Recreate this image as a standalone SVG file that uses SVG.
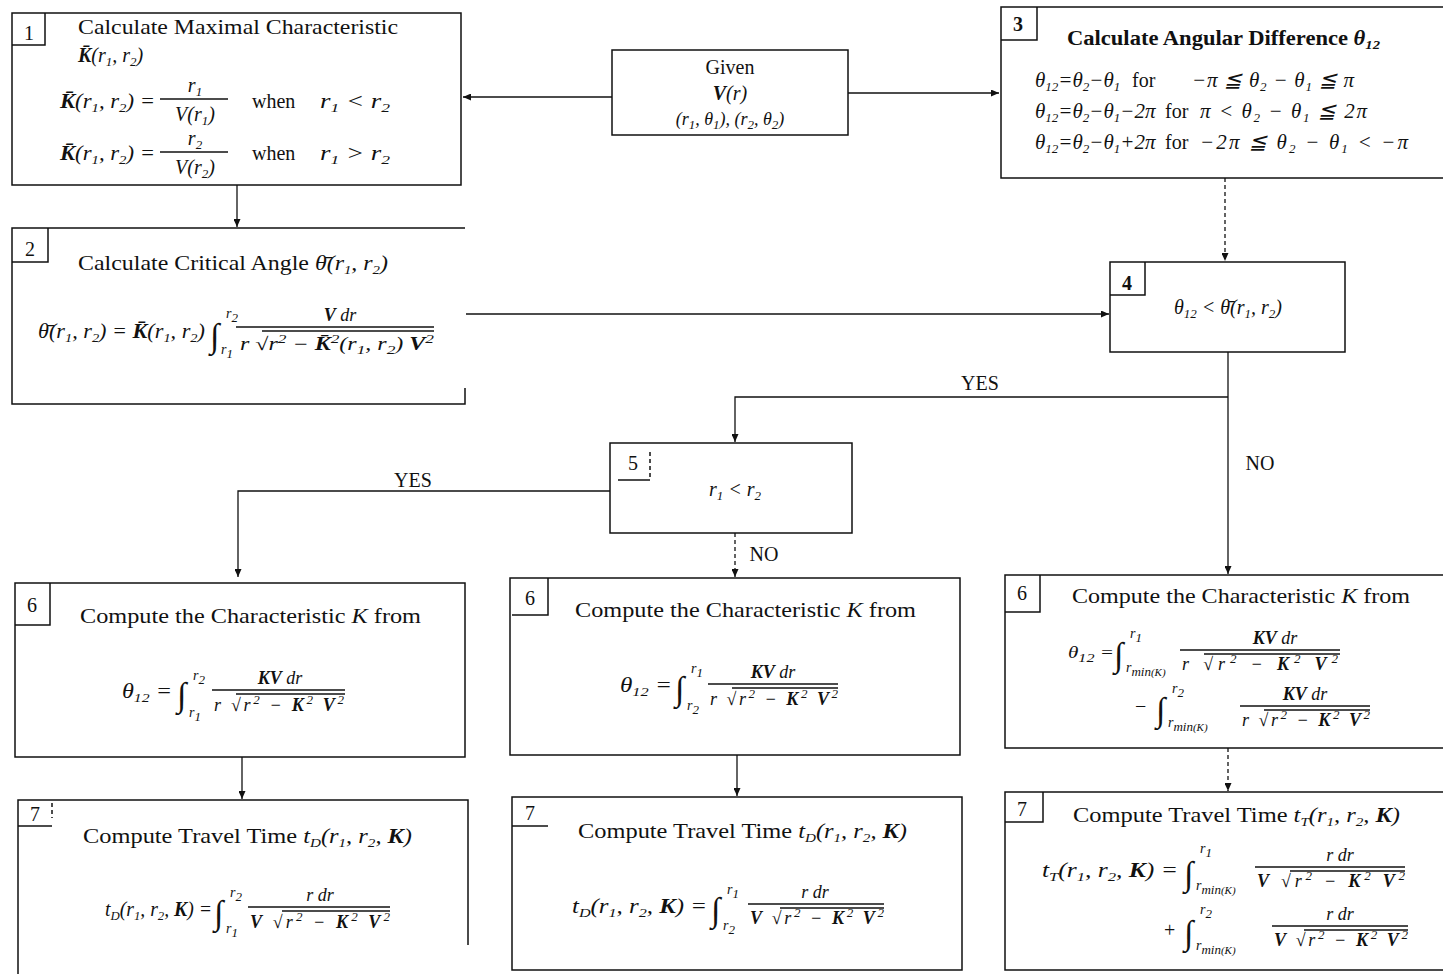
<svg xmlns="http://www.w3.org/2000/svg" width="1443" height="974" viewBox="0 0 1443 974">
<defs>
<marker id="ah" markerWidth="8" markerHeight="7" refX="8" refY="3.5" orient="auto" markerUnits="userSpaceOnUse"><path d="M0,0 L8,3.5 L0,7 z" fill="#111"/></marker>
<style>
text{font-family:"Liberation Serif","Times New Roman",serif;font-size:20px;fill:#111}
.ti{font-size:21px}
.m{font-style:italic}
.b{font-weight:bold}
.s{font-size:13px;baseline-shift:-4px}
.p{font-size:13px;baseline-shift:7px}
.lim{font-size:14px;font-style:italic}
.int{font-size:34px}
.f{font-size:18px;font-style:italic}
.eq3{font-size:21px;font-style:italic}
.box{fill:none;stroke:#111;stroke-width:1.5}
.bar{stroke:#111;stroke-width:1.3}
.conn{fill:none;stroke:#111;stroke-width:1.3}
.dash{stroke-dasharray:4 3}
.lbl{font-size:20px}
</style>
</defs>

<g id="node1">
<path class="box" d="M12,13 H461 V185 H12 Z"/>
<path class="box" d="M45,13 V45 H12"/>
<text x="29" y="40" text-anchor="middle">1</text>
<text class="ti" x="78" y="34" textLength="320" lengthAdjust="spacingAndGlyphs">Calculate Maximal Characteristic</text>
<text class="m" x="78" y="62"><tspan class="b">K̄</tspan>(r<tspan class="s">1</tspan>, r<tspan class="s">2</tspan>)</text>
<text class="m" x="60" y="108" textLength="95" lengthAdjust="spacingAndGlyphs"><tspan class="b">K̄</tspan>(r<tspan class="s">1</tspan>, r<tspan class="s">2</tspan>) =</text>
<text class="m" x="195" y="92" text-anchor="middle">r<tspan class="s">1</tspan></text>
<line class="bar" x1="160" y1="99" x2="228" y2="99"/>
<text class="m" x="195" y="121" text-anchor="middle">V(r<tspan class="s">1</tspan>)</text>
<text x="252" y="108">when</text>
<text class="m" x="320" y="108" textLength="70" lengthAdjust="spacingAndGlyphs">r<tspan class="s">1</tspan> &lt; r<tspan class="s">2</tspan></text>
<text class="m" x="60" y="160" textLength="95" lengthAdjust="spacingAndGlyphs"><tspan class="b">K̄</tspan>(r<tspan class="s">1</tspan>, r<tspan class="s">2</tspan>) =</text>
<text class="m" x="195" y="145" text-anchor="middle">r<tspan class="s">2</tspan></text>
<line class="bar" x1="160" y1="152" x2="228" y2="152"/>
<text class="m" x="195" y="174" text-anchor="middle">V(r<tspan class="s">2</tspan>)</text>
<text x="252" y="160">when</text>
<text class="m" x="320" y="160" textLength="70" lengthAdjust="spacingAndGlyphs">r<tspan class="s">1</tspan> &gt; r<tspan class="s">2</tspan></text>
</g>

<g id="node_given">
<path class="box" d="M612,50 H848 V135 H612 Z"/>
<text x="730" y="74" text-anchor="middle">Given</text>
<text class="m" x="730" y="100" text-anchor="middle"><tspan class="b">V</tspan>(r)</text>
<text class="m" x="730" y="125" text-anchor="middle" style="font-size:18px">(r<tspan class="s">1</tspan>, θ<tspan class="s">1</tspan>), (r<tspan class="s">2</tspan>, θ<tspan class="s">2</tspan>)</text>
</g>

<g id="node3">
<path class="box" d="M1443,7 H1001 V178 H1443"/>
<path class="box" d="M1037,7 V40 H1001"/>
<text class="b" x="1018" y="31" text-anchor="middle">3</text>
<text class="b" x="1067" y="45" textLength="313" lengthAdjust="spacingAndGlyphs">Calculate Angular Difference <tspan class="m">θ<tspan class="s">12</tspan></tspan></text>
<text class="eq3" x="1035" y="87">θ<tspan class="s">12</tspan>=θ<tspan class="s">2</tspan>−θ<tspan class="s">1</tspan></text>
<text x="1132" y="87">for</text>
<text class="eq3" x="1192" y="87" textLength="162" lengthAdjust="spacing">−π ≦ θ<tspan class="s">2</tspan> − θ<tspan class="s">1</tspan> ≦ π</text>
<text class="eq3" x="1035" y="118">θ<tspan class="s">12</tspan>=θ<tspan class="s">2</tspan>−θ<tspan class="s">1</tspan>−2π</text>
<text x="1165" y="118">for</text>
<text class="eq3" x="1200" y="118" textLength="167" lengthAdjust="spacing">π &lt; θ<tspan class="s">2</tspan> − θ<tspan class="s">1</tspan> ≦ 2π</text>
<text class="eq3" x="1035" y="149">θ<tspan class="s">12</tspan>=θ<tspan class="s">2</tspan>−θ<tspan class="s">1</tspan>+2π</text>
<text x="1165" y="149">for</text>
<text class="eq3" x="1200" y="149" textLength="208" lengthAdjust="spacing">−2π ≦ θ<tspan class="s">2</tspan> − θ<tspan class="s">1</tspan> &lt; −π</text>
</g>

<g id="node2">
<path class="box" d="M465,228 H12 V404 H465 V388"/>
<path class="box" d="M48,228 V262 H12"/>
<text x="30" y="256" text-anchor="middle">2</text>
<text class="ti" x="78" y="270" textLength="310" lengthAdjust="spacingAndGlyphs">Calculate Critical Angle <tspan class="m">θ̄(r<tspan class="s">1</tspan>, r<tspan class="s">2</tspan>)</tspan></text>
<text class="m" x="38" y="338" textLength="167" lengthAdjust="spacingAndGlyphs">θ̄(r<tspan class="s">1</tspan>, r<tspan class="s">2</tspan>) = <tspan class="b">K̄</tspan>(r<tspan class="s">1</tspan>, r<tspan class="s">2</tspan>)</text>
<text class="int" x="210" y="347">∫</text>
<text class="lim" x="226" y="318">r<tspan class="s">2</tspan></text>
<text class="lim" x="221" y="354">r<tspan class="s">1</tspan></text>
<line class="bar" x1="236" y1="327" x2="434" y2="327"/>
<line class="bar" x1="262" y1="331" x2="434" y2="331"/>
<text class="f" x="340" y="321" text-anchor="middle"><tspan class="b">V</tspan> dr</text>
<text class="f" x="240" y="350" textLength="194" lengthAdjust="spacingAndGlyphs">r √r<tspan class="p">2</tspan> − <tspan class="b">K̄</tspan><tspan class="p">2</tspan>(r<tspan class="s">1</tspan>, r<tspan class="s">2</tspan>) <tspan class="b">V</tspan><tspan class="p">2</tspan></text>
</g>

<g id="node4">
<path class="box" d="M1110,262 H1345 V352 H1110 Z"/>
<path class="box" d="M1145,262 V295 H1110"/>
<text class="b" x="1127" y="290" text-anchor="middle">4</text>
<text class="m" x="1228" y="314" text-anchor="middle">θ<tspan class="s">12</tspan> &lt; θ̄(r<tspan class="s">1</tspan>, r<tspan class="s">2</tspan>)</text>
</g>

<g id="node5">
<path class="box" d="M610,443 H852 V533 H610 Z"/>
<path class="box" d="M618,480 H650"/>
<path class="box dash" d="M650,452 V478"/>
<text x="633" y="470" text-anchor="middle">5</text>
<text class="m" x="735" y="496" text-anchor="middle">r<tspan class="s">1</tspan> &lt; r<tspan class="s">2</tspan></text>
</g>

<g id="node6a">
<path class="box" d="M15,583 H465 V757 H15 Z"/>
<path class="box" d="M50,583 V625 H15"/>
<text x="32" y="612" text-anchor="middle">6</text>
<text class="ti" x="80" y="623" textLength="341" lengthAdjust="spacingAndGlyphs">Compute the Characteristic <tspan class="m">K</tspan> from</text>
<text class="m" x="122" y="698" textLength="50" lengthAdjust="spacingAndGlyphs">θ<tspan class="s">12</tspan> =</text>
<text class="int" x="177" y="706">∫</text>
<text class="lim" x="193" y="680">r<tspan class="s">2</tspan></text>
<text class="lim" x="189" y="717">r<tspan class="s">1</tspan></text>
<line class="bar" x1="212" y1="690" x2="345" y2="690"/>
<line class="bar" x1="236" y1="694" x2="345" y2="694"/>
<text class="f" x="280" y="684" text-anchor="middle"><tspan class="b">KV</tspan> dr</text>
<text class="f" x="214" y="711" textLength="130" lengthAdjust="spacing">r √r<tspan class="p">2</tspan> − <tspan class="b">K</tspan><tspan class="p">2</tspan> <tspan class="b">V</tspan><tspan class="p">2</tspan></text>
</g>

<g id="node6b">
<path class="box" d="M510,578 H960 V755 H510 Z"/>
<path class="box" d="M548,578 V615 H512"/>
<text x="530" y="605" text-anchor="middle">6</text>
<text class="ti" x="575" y="617" textLength="341" lengthAdjust="spacingAndGlyphs">Compute the Characteristic <tspan class="m">K</tspan> from</text>
<text class="m" x="620" y="692" textLength="52" lengthAdjust="spacingAndGlyphs">θ<tspan class="s">12</tspan> =</text>
<text class="int" x="675" y="700">∫</text>
<text class="lim" x="691" y="673">r<tspan class="s">1</tspan></text>
<text class="lim" x="687" y="710">r<tspan class="s">2</tspan></text>
<line class="bar" x1="708" y1="684" x2="838" y2="684"/>
<line class="bar" x1="732" y1="688" x2="838" y2="688"/>
<text class="f" x="773" y="678" text-anchor="middle"><tspan class="b">KV</tspan> dr</text>
<text class="f" x="710" y="705" textLength="128" lengthAdjust="spacing">r √r<tspan class="p">2</tspan> − <tspan class="b">K</tspan><tspan class="p">2</tspan> <tspan class="b">V</tspan><tspan class="p">2</tspan></text>
</g>

<g id="node6c">
<path class="box" d="M1443,575 H1005 V748 H1443"/>
<path class="box" d="M1040,575 V612 H1005"/>
<text x="1022" y="600" text-anchor="middle">6</text>
<text class="ti" x="1072" y="603" textLength="338" lengthAdjust="spacingAndGlyphs">Compute the Characteristic <tspan class="m">K</tspan> from</text>
<text class="m" x="1068" y="658" style="font-size:17px" textLength="46" lengthAdjust="spacingAndGlyphs">θ<tspan class="s">12</tspan> =</text>
<text class="int" x="1114" y="666">∫</text>
<text class="lim" x="1130" y="638">r<tspan class="s">1</tspan></text>
<text class="lim" x="1126" y="672">r<tspan class="s">min</tspan><tspan style="font-size:11px;baseline-shift:-4px">(K)</tspan></text>
<line class="bar" x1="1180" y1="650" x2="1340" y2="650"/>
<line class="bar" x1="1204" y1="654" x2="1340" y2="654"/>
<text class="f" x="1275" y="644" text-anchor="middle"><tspan class="b">KV</tspan> dr</text>
<text class="f" x="1182" y="670" textLength="156" lengthAdjust="spacing">r √r<tspan class="p">2</tspan> − <tspan class="b">K</tspan><tspan class="p">2</tspan> <tspan class="b">V</tspan><tspan class="p">2</tspan></text>
<text x="1135" y="713">−</text>
<text class="int" x="1156" y="721">∫</text>
<text class="lim" x="1172" y="693">r<tspan class="s">2</tspan></text>
<text class="lim" x="1168" y="727">r<tspan class="s">min</tspan><tspan style="font-size:11px;baseline-shift:-4px">(K)</tspan></text>
<line class="bar" x1="1240" y1="706" x2="1370" y2="706"/>
<line class="bar" x1="1264" y1="710" x2="1370" y2="710"/>
<text class="f" x="1305" y="700" text-anchor="middle"><tspan class="b">KV</tspan> dr</text>
<text class="f" x="1242" y="726" textLength="128" lengthAdjust="spacing">r √r<tspan class="p">2</tspan> − <tspan class="b">K</tspan><tspan class="p">2</tspan> <tspan class="b">V</tspan><tspan class="p">2</tspan></text>
</g>

<g id="node7a">
<path class="box" d="M18,974 V800 H468 V945"/>
<path class="box" d="M18,826 H52"/>
<path class="box dash" d="M52,803 V818"/>
<text x="35" y="821" text-anchor="middle">7</text>
<text class="ti" x="83" y="843" textLength="329" lengthAdjust="spacingAndGlyphs">Compute Travel Time <tspan class="m">t<tspan class="s">D</tspan>(r<tspan class="s">1</tspan>, r<tspan class="s">2</tspan>, <tspan class="b">K</tspan>)</tspan></text>
<text class="m" x="105" y="916" textLength="107" lengthAdjust="spacingAndGlyphs">t<tspan class="s">D</tspan>(r<tspan class="s">1</tspan>, r<tspan class="s">2</tspan>, <tspan class="b">K</tspan>) =</text>
<text class="int" x="214" y="924">∫</text>
<text class="lim" x="230" y="897">r<tspan class="s">2</tspan></text>
<text class="lim" x="226" y="933">r<tspan class="s">1</tspan></text>
<line class="bar" x1="248" y1="907" x2="390" y2="907"/>
<line class="bar" x1="282" y1="911" x2="390" y2="911"/>
<text class="f" x="320" y="901" text-anchor="middle">r dr</text>
<text class="f" x="250" y="928" textLength="140" lengthAdjust="spacing"><tspan class="b">V</tspan> √r<tspan class="p">2</tspan> − <tspan class="b">K</tspan><tspan class="p">2</tspan> <tspan class="b">V</tspan><tspan class="p">2</tspan></text>
</g>

<g id="node7b">
<path class="box" d="M512,797 H962 V970 H512 Z"/>
<path class="box" d="M512,826 H548"/>
<text x="530" y="820" text-anchor="middle">7</text>
<text class="ti" x="578" y="838" textLength="329" lengthAdjust="spacingAndGlyphs">Compute Travel Time <tspan class="m">t<tspan class="s">D</tspan>(r<tspan class="s">1</tspan>, r<tspan class="s">2</tspan>, <tspan class="b">K</tspan>)</tspan></text>
<text class="m" x="572" y="913" textLength="135" lengthAdjust="spacingAndGlyphs">t<tspan class="s">D</tspan>(r<tspan class="s">1</tspan>, r<tspan class="s">2</tspan>, <tspan class="b">K</tspan>) =</text>
<text class="int" x="711" y="921">∫</text>
<text class="lim" x="727" y="894">r<tspan class="s">1</tspan></text>
<text class="lim" x="723" y="930">r<tspan class="s">2</tspan></text>
<line class="bar" x1="748" y1="904" x2="884" y2="904"/>
<line class="bar" x1="780" y1="908" x2="884" y2="908"/>
<text class="f" x="815" y="898" text-anchor="middle">r dr</text>
<text class="f" x="750" y="924" textLength="134" lengthAdjust="spacing"><tspan class="b">V</tspan> √r<tspan class="p">2</tspan> − <tspan class="b">K</tspan><tspan class="p">2</tspan> <tspan class="b">V</tspan><tspan class="p">2</tspan></text>
</g>

<g id="node7c">
<path class="box" d="M1443,792 H1005 V970 H1443"/>
<path class="box" d="M1043,792 V822 H1005"/>
<text x="1022" y="816" text-anchor="middle">7</text>
<text class="ti" x="1073" y="822" textLength="327" lengthAdjust="spacingAndGlyphs">Compute Travel Time <tspan class="m">t<tspan class="s">T</tspan>(r<tspan class="s">1</tspan>, r<tspan class="s">2</tspan>, <tspan class="b">K</tspan>)</tspan></text>
<text class="m" x="1042" y="877" textLength="136" lengthAdjust="spacingAndGlyphs">t<tspan class="s">T</tspan>(r<tspan class="s">1</tspan>, r<tspan class="s">2</tspan>, <tspan class="b">K</tspan>) =</text>
<text class="int" x="1184" y="885">∫</text>
<text class="lim" x="1200" y="853">r<tspan class="s">1</tspan></text>
<text class="lim" x="1196" y="890">r<tspan class="s">min</tspan><tspan style="font-size:11px;baseline-shift:-4px">(K)</tspan></text>
<line class="bar" x1="1255" y1="867" x2="1405" y2="867"/>
<line class="bar" x1="1290" y1="871" x2="1405" y2="871"/>
<text class="f" x="1340" y="861" text-anchor="middle">r dr</text>
<text class="f" x="1257" y="887" textLength="148" lengthAdjust="spacing"><tspan class="b">V</tspan> √r<tspan class="p">2</tspan> − <tspan class="b">K</tspan><tspan class="p">2</tspan> <tspan class="b">V</tspan><tspan class="p">2</tspan></text>
<text x="1164" y="937">+</text>
<text class="int" x="1184" y="944">∫</text>
<text class="lim" x="1200" y="914">r<tspan class="s">2</tspan></text>
<text class="lim" x="1196" y="950">r<tspan class="s">min</tspan><tspan style="font-size:11px;baseline-shift:-4px">(K)</tspan></text>
<line class="bar" x1="1272" y1="926" x2="1408" y2="926"/>
<line class="bar" x1="1304" y1="930" x2="1408" y2="930"/>
<text class="f" x="1340" y="920" text-anchor="middle">r dr</text>
<text class="f" x="1274" y="946" textLength="134" lengthAdjust="spacing"><tspan class="b">V</tspan> √r<tspan class="p">2</tspan> − <tspan class="b">K</tspan><tspan class="p">2</tspan> <tspan class="b">V</tspan><tspan class="p">2</tspan></text>
</g>

<g id="connectors">
<path class="conn" d="M612,97 H463" marker-end="url(#ah)"/>
<path class="conn" d="M848,93 H999" marker-end="url(#ah)"/>
<path class="conn" d="M237,185 V227" marker-end="url(#ah)"/>
<path class="conn" d="M466,314 H1109" marker-end="url(#ah)"/>
<path class="conn dash" d="M1225,178 V261" marker-end="url(#ah)"/>
<path class="conn" d="M1228,352 V574" marker-end="url(#ah)"/>
<path class="conn" d="M1228,397 H735 V442" marker-end="url(#ah)"/>
<path class="conn" d="M610,491 H238 V577" marker-end="url(#ah)"/>
<path class="conn dash" d="M735,533 V577" marker-end="url(#ah)"/>
<path class="conn" d="M242,757 V799" marker-end="url(#ah)"/>
<path class="conn" d="M737,755 V796" marker-end="url(#ah)"/>
<path class="conn dash" d="M1228,748 V791" marker-end="url(#ah)"/>
<text class="lbl" x="980" y="390" text-anchor="middle">YES</text>
<text class="lbl" x="1260" y="470" text-anchor="middle">NO</text>
<text class="lbl" x="413" y="487" text-anchor="middle">YES</text>
<text class="lbl" x="764" y="561" text-anchor="middle">NO</text>
</g>
</svg>
